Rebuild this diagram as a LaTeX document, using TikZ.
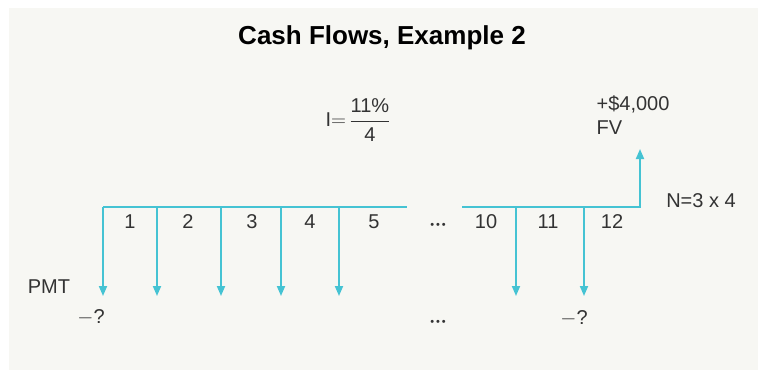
\documentclass[tikz,border=0pt]{standalone}
\usepackage{amsmath}
\usepackage{fontspec}
\setmainfont{Liberation Sans}
\usepackage{tikz}
\usetikzlibrary{positioning,arrows.meta}
\usepackage{xcolor}
\definecolor{panel}{HTML}{F7F7F3}
\definecolor{flow}{HTML}{45C3D3}
\definecolor{ink}{HTML}{333333}

\begin{document}
\begin{tikzpicture}[x=1pt,y=-1pt,>={Triangle[length=10pt,width=8pt]},
  flowline/.style={flow,line width=1.8pt},
  lbl/.style={text=ink,font=\fontsize{20}{24}\selectfont,inner sep=0pt},
  dots/.style={text=ink,font=\fontsize{11}{13}\selectfont,inner sep=0pt},
  node distance=6pt]
\fill[white] (0,0) rectangle (758,370);
\fill[panel] (9,8) rectangle (758,370);
\useasboundingbox (0,0) rectangle (758,370);

\node (title) at (382,38) [text=black,font=\fontsize{26}{30}\selectfont\bfseries] {Cash Flows, Example 2};
\node (rate) at (358,120) [lbl] {I$=$\,$\dfrac{\text{\fontsize{20}{24}\selectfont 11\%}}{\text{\fontsize{20}{24}\selectfont 4}}$};
\node (fvamt) at (633,104) [lbl] {+\$4,000};
\node (fv) [lbl,below=8pt of fvamt.south west,anchor=north west] {FV};
\node (nper) at (701,201) [lbl] {N=3 x 4};

% time line
\coordinate (a0) at (103,207);
\coordinate (a1) at (407,207);
\coordinate (b0) at (462,207);
\coordinate (b1) at (640,207);
\coordinate (fvtip) at (640,149);
\draw[flowline] (a0) -- (a1);
\draw[flowline,->] (b0) -- (b1) -- (fvtip);

% payments
\foreach \n/\x in {0/103,1/157,2/221,3/281,4/339,10/516,11/584} {
  \coordinate (t\n) at (\x,207);
  \coordinate (p\n) at (\x,296);
  \draw[flowline,->] (t\n) -- (p\n);
}

% periods
\foreach \k/\x in {1/130,2/188,3/252,4/310,5/374,10/486,11/548,12/612}
  \node (n\k) at (\x,222) [lbl] {\k};
\node (gap) at (438,226) [dots] {\textbullet\,\textbullet\,\textbullet};
\node (gapb) at (438,323) [dots] {\textbullet\,\textbullet\,\textbullet};

\node (pmt) at (49,287) [lbl] {PMT};
\node (qa) at (91,317) [lbl] {$-$?};
\node (qb) at (574,318) [lbl] {$-$?};
\end{tikzpicture}
\end{document}
